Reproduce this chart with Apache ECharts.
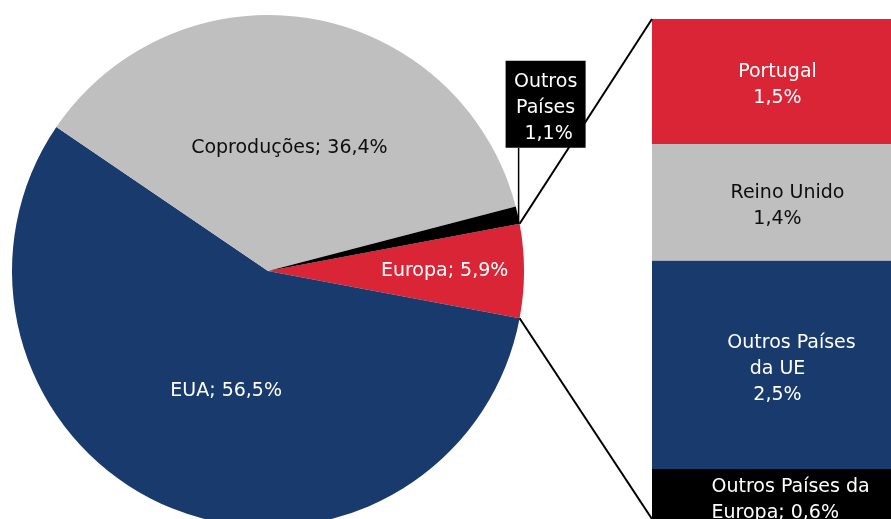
<!DOCTYPE html>
<html>
<head>
<meta charset="utf-8">
<script src="https://cdn.jsdelivr.net/npm/echarts@6/dist/echarts.min.js"></script>
<style>
  html, body { margin: 0; padding: 0; background: #ffffff; }
  #chart { width: 891px; height: 519px; }
</style>
</head>
<body>
<div id="chart"></div>
<script>
// Origem dos filmes exibidos (quota, %)
const pieNames  = ['Europa', 'EUA', 'Coproduções', 'Outros Países'];
const pieValues = [5.9, 56.5, 36.4, 1.1];
const pieColors = ['#DA2536', '#193A6D', '#BFBFBF', '#000000'];

// Desagregação da fatia "Europa"
const euNames  = ['Portugal', 'Reino Unido', 'Outros Países da UE', 'Outros Países da Europa'];
const euValues = [1.5, 1.4, 2.5, 0.6];
const euColors = ['#DA2536', '#BFBFBF', '#193A6D', '#000000'];

const FONT = 'DejaVu Sans';
const FS = 19;
const LH = 26;

const fmt = v => v.toFixed(1).replace('.', ',') + '%';

// Pie geometry (pixels)
const CX = 268, CY = 271, R = 256;
const pieTotal = pieValues.reduce((a, b) => a + b, 0);
// Europa is centred on the horizontal axis, pointing right
const startAngle = pieValues[0] / pieTotal * 360 / 2;
const rad = startAngle * Math.PI / 180;
const upperJoin = [CX + R * Math.cos(rad), CY - R * Math.sin(rad)];
const lowerJoin = [CX + R * Math.cos(rad), CY + R * Math.sin(rad)];

// Mid angle of every slice (degrees, counter-clockwise from east)
const midAngles = [];
(function () {
  let a = startAngle;
  pieValues.forEach(v => {
    const span = v / pieTotal * 360;
    midAngles.push(a - span / 2);
    a -= span;
  });
})();

// Stacked column grid
const GRID = { left: 652, top: 19, width: 250, height: 502 };
const euTotal = euValues.reduce((a, b) => a + b, 0);

// Label placement inside the slices: radius fraction + small nudge
const pieLabelRadius = [0.69, 0.49, 0.49, 0];
const pieLabelNudge = [[0, 0], [6, 4], [0, 1], [0, 0]];
const BOX_W = 80;
const BOX_RISE = 76;

const chart = echarts.init(document.getElementById('chart'), null, { renderer: 'canvas' });

const pieLabels = [
  { text: n => n + '; ' + fmt(pieValues[0]), color: '#ffffff' },
  { text: n => n + '; ' + fmt(pieValues[1]), color: '#ffffff' },
  { text: n => n + '; ' + fmt(pieValues[2]), color: '#0d0d0d' },
  { text: n => 'Outros\nPaíses\n ' + fmt(pieValues[3]), color: '#ffffff' }
];

const pieData = pieNames.map((n, i) => {
  const item = {
    name: n,
    value: pieValues[i],
    itemStyle: { color: pieColors[i] },
    label: {
      formatter: pieLabels[i].text(n),
      color: pieLabels[i].color
    }
  };
  if (i === 3) {
    item.label.backgroundColor = '#000000';
    item.label.padding = [8, 0, 1, 0];
    item.label.width = BOX_W;
    item.label.align = 'center';
  }
  return item;
});

// Rich-text label styles for the column segments
const barRich = (shiftFirst) => ({
  first: { fontFamily: FONT, fontSize: FS, lineHeight: LH, padding: [0, 0, 0, shiftFirst] },
  rest: { fontFamily: FONT, fontSize: FS, lineHeight: LH }
});

const barLabelDefs = [
  { text: '{rest|Portugal}\n{rest|' + fmt(euValues[0]) + '}', color: '#ffffff', rich: barRich(0), offset: [6, 4] },
  { text: '{first|Reino Unido}\n{rest|' + fmt(euValues[1]) + '}', color: '#0d0d0d', rich: barRich(20), offset: [6, 4] },
  { text: '{first|Outros Países}\n{rest|da UE}\n{rest|' + fmt(euValues[2]) + '}', color: '#ffffff', rich: barRich(28), offset: [6, 4] },
  {
    text: '{blk|Outros Países da}\n{blk|Europa; ' + fmt(euValues[3]) + '}',
    color: '#ffffff',
    rich: { blk: { fontFamily: FONT, fontSize: FS, lineHeight: LH, width: 158, align: 'left' } },
    offset: [19, 6]
  }
];

const barSeries = euNames.map((n, i) => ({
  name: n,
  type: 'bar',
  stack: 'europa',
  barWidth: '100%',
  data: [euValues[i]],
  itemStyle: { color: euColors[i] },
  silent: true,
  label: {
    show: true,
    position: 'inside',
    formatter: barLabelDefs[i].text,
    color: barLabelDefs[i].color,
    fontFamily: FONT,
    fontSize: FS,
    lineHeight: LH,
    overflow: 'none',
    rich: barLabelDefs[i].rich,
    offset: barLabelDefs[i].offset
  }
}));

chart.setOption({
  animation: false,
  backgroundColor: '#ffffff',
  textStyle: { fontFamily: FONT },
  grid: { left: GRID.left, top: GRID.top, width: GRID.width, height: GRID.height, containLabel: false },
  xAxis: { type: 'category', data: ['Europa'], show: false },
  yAxis: { type: 'value', min: 0, max: euTotal, inverse: true, show: false },
  series: [
    {
      type: 'pie',
      center: [CX, CY],
      radius: [0, R],
      startAngle: startAngle,
      clockwise: true,
      avoidLabelOverlap: false,
      silent: true,
      itemStyle: { borderWidth: 0 },
      label: {
        show: true,
        position: 'inside',
        fontFamily: FONT,
        fontSize: FS,
        lineHeight: LH,
        overflow: 'none'
      },
      labelLine: { show: false },
      labelLayout: function (p) {
        const i = p.dataIndex;
        if (i === 3) {
          return {
            x: upperJoin[0] - 14 + BOX_W / 2,
            y: upperJoin[1] - BOX_RISE,
            align: 'center',
            verticalAlign: 'bottom'
          };
        }
        const a = midAngles[i] * Math.PI / 180;
        const r = R * pieLabelRadius[i];
        return {
          x: CX + r * Math.cos(a) + pieLabelNudge[i][0],
          y: CY - r * Math.sin(a) + pieLabelNudge[i][1],
          align: 'center',
          verticalAlign: 'middle'
        };
      },
      data: pieData
    }
  ].concat(barSeries)
});

// Connector lines between the "Europa" slice and the column
const colTop = chart.convertToPixel({ gridIndex: 0 }, [0, 0]);
const colBottom = chart.convertToPixel({ gridIndex: 0 }, [0, euTotal]);
const lineStyle = { stroke: '#000000', lineWidth: 2 };

chart.setOption({
  graphic: [
    {
      type: 'line',
      silent: true,
      shape: { x1: upperJoin[0], y1: upperJoin[1], x2: GRID.left, y2: colTop[1] },
      style: lineStyle,
      z: 10
    },
    {
      type: 'line',
      silent: true,
      shape: { x1: lowerJoin[0], y1: lowerJoin[1], x2: GRID.left, y2: colBottom[1] },
      style: lineStyle,
      z: 10
    },
    {
      type: 'line',
      silent: true,
      shape: { x1: upperJoin[0] - 1, y1: upperJoin[1], x2: upperJoin[0] - 1, y2: upperJoin[1] - BOX_RISE },
      style: { stroke: '#000000', lineWidth: 1.5 },
      z: 10
    }
  ]
});
</script>
</body>
</html>
